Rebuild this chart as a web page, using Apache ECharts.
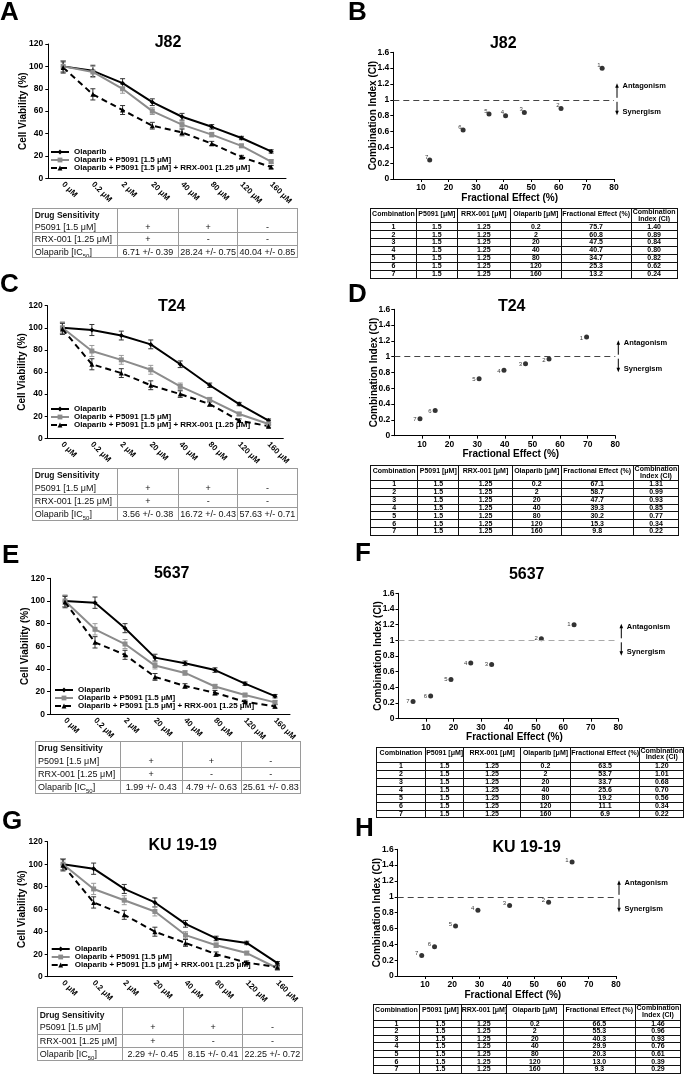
<!DOCTYPE html>
<html><head><meta charset="utf-8">
<script src="https://cdn.jsdelivr.net/npm/echarts@6/dist/echarts.min.js"></script>
<style>
html,body{margin:0;padding:0;background:#fff;}
#wrap{position:relative;width:685px;height:1077px;overflow:hidden;}
#chart{position:absolute;left:0;top:0;width:685px;height:1077px;}
table{position:absolute;border-collapse:collapse;table-layout:fixed;font-family:'Liberation Sans',Arial,sans-serif;}
table.sens{font-size:9px;color:#111;}
table.sens td{border:1px solid #9a9a9a;padding:0;text-align:center;white-space:nowrap;overflow:hidden;line-height:10px;}
table.sens td.lab{text-align:left;padding-left:2px;}
table.sens tr.r0 td{border-bottom:none;}
table.sens tr.r1 td{border-top:none;}
table.sens td.hd{font-weight:bold;font-size:8.5px;}
table.sens sub{font-size:6px;line-height:0;}
table.combo{font-size:7px;font-weight:bold;color:#000;}
table.combo td{border:1px solid #111;padding:0;text-align:center;white-space:nowrap;overflow:hidden;line-height:6.4px;}
table.combo tr.hdr td{vertical-align:top;line-height:7.5px;padding-top:1px;}
table.combo tr.hdr td.two{line-height:6.5px;padding-top:0;}
</style>
</head><body>
<div id="wrap"><div id="chart"></div></div>
<script>
const FONT = "'Liberation Sans', Arial, sans-serif";

// ---------- categories / names ----------
const doseLabels = ['0 μM', '0.2 μM', '2 μM', '20 μM', '40 μM', '80 μM', '120 μM', '160 μM'];
const seriesNames = ['Olaparib', 'Olaparib + P5091 [1.5 μM]', 'Olaparib + P5091 [1.5 μM] + RRX-001 [1.25 μM]'];

// ---------- cell viability (%) ----------
const j82Olaparib = [100, 96, 85, 68, 55, 46, 36, 24];
const j82P5091    = [100, 95, 80, 60, 48, 39, 29, 15];
const j82Triple   = [99, 75, 61, 47, 41, 31, 19, 10];
const j82Err      = [5, 5, 4, 3, 3, 2, 1.5, 1.5];

const t24Olaparib = [100, 98, 93, 85, 67, 48, 31, 16];
const t24P5091    = [100, 79, 71, 62, 47, 35, 22, 13];
const t24Triple   = [99, 67, 59, 48, 40, 31, 16, 11];
const t24Err      = [5, 5, 4, 4, 3, 2, 1.5, 1.5];

const c5637Olaparib = [100, 98.5, 76, 50, 45, 39, 27, 16];
const c5637P5091    = [100, 75, 62, 43, 36.5, 24.5, 17, 10.5];
const c5637Triple   = [99, 63.5, 52.5, 33, 25, 19, 11, 7];
const c5637Err      = [5, 5, 4, 3, 2, 2, 1.5, 1.5];

const ku1919Olaparib = [100, 96, 78, 66, 47, 34, 30, 12];
const ku1919P5091    = [100, 78, 68, 58, 37, 28, 21, 7.5];
const ku1919Triple   = [99, 66, 55, 40, 30, 20, 12.5, 8.5];
const ku1919Err      = [5, 5, 4, 4, 3, 2, 1.5, 1.5];

// ---------- combination index plots ----------
const comboLabels = ['1', '2', '3', '4', '5', '6', '7'];
const j82FE = [75.7, 60.8, 47.5, 40.7, 34.7, 25.3, 13.2];
const j82CI = [1.40, 0.89, 0.84, 0.80, 0.82, 0.62, 0.24];
const t24FE = [69.6, 56.0, 47.5, 39.7, 30.7, 14.8, 9.3];
const t24CI = [1.25, 0.97, 0.91, 0.83, 0.72, 0.32, 0.215];
const c5637FE = [63.9, 52.0, 33.9, 26.3, 19.1, 11.7, 5.3];
const c5637CI = [1.20, 1.02, 0.69, 0.71, 0.50, 0.29, 0.22];
const ku1919FE = [63.9, 55.3, 41.0, 29.4, 21.2, 13.5, 8.8];
const ku1919CI = [1.44, 0.93, 0.89, 0.83, 0.63, 0.37, 0.26];

// ---------- drug sensitivity tables ----------
const sensRowLabels = ['Drug Sensitivity', 'P5091 [1.5 μM]', 'RRX-001 [1.25 μM]', 'Olaparib [IC<sub>50</sub>]'];
const p5091Sens = ['+', '+', '-'];
const rrxSens = ['+', '-', '-'];
const j82IC50 = ['6.71 +/- 0.39', '28.24 +/- 0.75', '40.04 +/- 0.85'];
const t24IC50 = ['3.56 +/- 0.38', '16.72 +/- 0.43', '57.63 +/- 0.71'];
const c5637IC50 = ['1.99 +/- 0.43', '4.79 +/- 0.63', '25.61 +/- 0.83'];
const ku1919IC50 = ['2.29 +/- 0.45', '8.15 +/- 0.41', '22.25 +/- 0.72'];

// ---------- combination tables ----------
const comboHeader = ['Combination', 'P5091 [μM]', 'RRX-001 [μM]', 'Olaparib [μM]', 'Fractional Effect (%)', 'Combination<br>Index (CI)'];
const p5091Dose = '1.5';
const rrxDose = '1.25';
const olaparibDoses = ['0.2', '2', '20', '40', '80', '120', '160'];
const j82TableFE = ['75.7', '60.8', '47.5', '40.7', '34.7', '25.3', '13.2'];
const j82TableCI = ['1.40', '0.89', '0.84', '0.80', '0.82', '0.62', '0.24'];
const t24TableFE = ['67.1', '58.7', '47.7', '39.3', '30.2', '15.3', '9.8'];
const t24TableCI = ['1.31', '0.99', '0.93', '0.85', '0.77', '0.34', '0.22'];
const c5637TableFE = ['63.5', '53.7', '33.7', '25.6', '19.2', '11.1', '6.9'];
const c5637TableCI = ['1.20', '1.01', '0.68', '0.70', '0.56', '0.34', '0.22'];
const ku1919TableFE = ['66.5', '55.3', '40.3', '29.9', '20.3', '13.0', '9.3'];
const ku1919TableCI = ['1.46', '0.96', '0.93', '0.76', '0.61', '0.39', '0.29'];

// ---------- layout ----------
const linePanels = [
  {letter: 'A', letterPos: [0, 13], title: 'J82', titlePos: [168, 43], grid: {left: 48.3, top: 44, width: 237.7, height: 134.3}, legendPos: [50, 148],
   data: [j82Olaparib, j82P5091, j82Triple], err: j82Err, table: {left: 31.7, top: 207.7, rowH: 12.4, ic50: j82IC50}},
  {letter: 'C', letterPos: [0, 285], title: 'T24', titlePos: [171.7, 306.7], grid: {left: 47.7, top: 305.7, width: 235.6, height: 132.6}, legendPos: [50, 405],
   data: [t24Olaparib, t24P5091, t24Triple], err: t24Err, table: {left: 31.7, top: 468.3, rowH: 12.9, ic50: t24IC50}},
  {letter: 'E', letterPos: [2, 555.5], title: '5637', titlePos: [171.7, 573.3], grid: {left: 50, top: 578.3, width: 240, height: 136}, legendPos: [54, 686],
   data: [c5637Olaparib, c5637P5091, c5637Triple], err: c5637Err, table: {left: 35, top: 740.7, rowH: 13.1, ic50: c5637IC50}},
  {letter: 'G', letterPos: [2, 821.5], title: 'KU 19-19', titlePos: [182.7, 846], grid: {left: 47.7, top: 841.7, width: 245, height: 135}, legendPos: [50.7, 945],
   data: [ku1919Olaparib, ku1919P5091, ku1919Triple], err: ku1919Err, table: {left: 36.7, top: 1007.3, rowH: 13.2, ic50: ku1919IC50}}
];
const sensCols = [85, 61.5, 59, 59.5];

const ciPanels = [
  {letter: 'B', letterPos: [348, 13], title: 'J82', titlePos: [503.3, 43.3], grid: {left: 393.3, top: 52.3, width: 220.7, height: 126.7},
   fe: j82FE, ci: j82CI, dash: '#444', labelPos: 'left', labelOffset: [2, -3],
   table: {cols: [370, 416, 456.7, 510, 560.7, 630.7, 676.7], top: 208.3, headH: 13.4, rowH: 7.94, fe: j82TableFE, ci: j82TableCI}},
  {letter: 'D', letterPos: [348, 295], title: 'T24', titlePos: [511.7, 306.7], grid: {left: 394.3, top: 309.3, width: 221, height: 126.4},
   fe: t24FE, ci: t24CI, dash: '#444', labelPos: 'left', labelOffset: [0, 1],
   table: {cols: [370, 417.3, 458.3, 511.7, 560.7, 632.7, 678.3], top: 465, headH: 15, rowH: 7.86, fe: t24TableFE, ci: t24TableCI}},
  {letter: 'F', letterPos: [355, 554], title: '5637', titlePos: [526.7, 575], grid: {left: 398.5, top: 593.3, width: 219.8, height: 125.4},
   fe: c5637FE, ci: c5637CI, dash: '#aaa', labelPos: 'left', labelOffset: [0, 0],
   table: {cols: [376, 425, 463.3, 520, 570, 639.3, 683.3], top: 746.7, headH: 15.5, rowH: 7.9, fe: c5637TableFE, ci: c5637TableCI}},
  {letter: 'H', letterPos: [355, 828.5], title: 'KU 19-19', titlePos: [526.7, 847.3], grid: {left: 397.7, top: 849.3, width: 218.3, height: 126.7},
   fe: ku1919FE, ci: ku1919CI, dash: '#444', labelPos: 'left', labelOffset: [0, -2],
   table: {cols: [372.7, 419.3, 460.7, 506, 562.7, 635, 680], top: 1004, headH: 15.5, rowH: 7.6, fe: ku1919TableFE, ci: ku1919TableCI}}
];

const lineStyles = [
  {color: '#000', width: 2, type: 'solid', symbol: 'diamond', size: 5, errColor: '#333'},
  {color: '#8c8c8c', width: 2, type: 'solid', symbol: 'rect', size: 5, errColor: '#9a9a9a'},
  {color: '#000', width: 2, type: [6, 4], symbol: 'triangle', size: 5, errColor: '#333'}
];

const tickText = {fontSize: 8.5, fontWeight: 'bold', color: '#000', fontFamily: FONT};
const nameText = {fontSize: 10, fontWeight: 'bold', color: '#000', fontFamily: FONT};

function errorSeries(idx, vals, err, color) {
  return {
    type: 'custom', xAxisIndex: idx, yAxisIndex: idx, silent: true, z: 1,
    data: vals.map((v, k) => [k, v - err[k], v + err[k]]),
    encode: {x: 0, y: [1, 2]},
    renderItem: (params, api) => {
      const lo = api.coord([api.value(0), api.value(1)]);
      const hi = api.coord([api.value(0), api.value(2)]);
      const w = 2.5;
      const style = {stroke: color, lineWidth: 1};
      return {type: 'group', children: [
        {type: 'line', shape: {x1: lo[0], y1: lo[1], x2: hi[0], y2: hi[1]}, style: style},
        {type: 'line', shape: {x1: lo[0] - w, y1: lo[1], x2: lo[0] + w, y2: lo[1]}, style: style},
        {type: 'line', shape: {x1: hi[0] - w, y1: hi[1], x2: hi[0] + w, y2: hi[1]}, style: style}
      ]};
    }
  };
}

const grids = [], xAxes = [], yAxes = [], series = [], legends = [], texts = [];

function addText(txt, pos, font, align) {
  texts.push({type: 'text', silent: true, style: {text: txt, x: pos[0], y: pos[1], font: font, fill: '#000',
    align: align, textAlign: align, verticalAlign: 'middle', textVerticalAlign: 'middle'}});
}

linePanels.forEach((p, i) => {
  grids.push(Object.assign({}, p.grid));
  xAxes.push({type: 'category', gridIndex: i, data: doseLabels, boundaryGap: true,
    axisLine: {lineStyle: {color: '#000', width: 1}},
    axisTick: {length: 3, lineStyle: {color: '#000'}},
    axisLabel: {rotate: -45, margin: 5, interval: 0, fontSize: 8, fontWeight: 'bold', color: '#000', fontFamily: FONT}});
  yAxes.push({type: 'value', gridIndex: i, min: 0, max: 120, interval: 20,
    name: 'Cell Viability (%)', nameLocation: 'middle', nameGap: 20, nameMoveOverlap: false, nameTextStyle: nameText,
    axisLine: {show: true, lineStyle: {color: '#000'}},
    axisTick: {show: true, length: 3, lineStyle: {color: '#000'}},
    splitLine: {show: false}, axisLabel: Object.assign({margin: 5}, tickText)});
  lineStyles.forEach((st, k) => {
    series.push(errorSeries(i, p.data[k], p.err, st.errColor));
  });
  lineStyles.forEach((st, k) => {
    series.push({type: 'line', name: seriesNames[k], xAxisIndex: i, yAxisIndex: i, data: p.data[k],
      symbol: st.symbol, symbolSize: st.size, showSymbol: true, z: 3,
      itemStyle: {color: st.color}, lineStyle: {color: st.color, width: st.width, type: st.type}});
  });
  legends.push({left: p.legendPos[0], top: p.legendPos[1], orient: 'vertical', itemGap: 0, itemWidth: 18, itemHeight: 6,
    padding: 0, selectedMode: false, data: seriesNames,
    textStyle: {fontSize: 8, fontWeight: 'bold', color: '#000', fontFamily: FONT}});
  addText(p.letter, p.letterPos, 'bold 26px ' + FONT, 'left');
  addText(p.title, p.titlePos, 'bold 16px ' + FONT, 'center');
});

ciPanels.forEach((p, j) => {
  const i = j + linePanels.length;
  grids.push(Object.assign({}, p.grid));
  xAxes.push({type: 'value', gridIndex: i, min: 0, max: 80, interval: 10,
    name: 'Fractional Effect (%)', nameLocation: 'middle', nameGap: 14, nameMoveOverlap: false,
    nameTextStyle: Object.assign({padding: [0, 0, 0, 12]}, nameText),
    axisLine: {onZero: false, lineStyle: {color: '#000'}},
    axisTick: {show: true, length: 3, lineStyle: {color: '#000'}},
    splitLine: {show: false}, axisLabel: Object.assign({margin: 4, showMinLabel: false}, tickText)});
  yAxes.push({type: 'value', gridIndex: i, min: 0, max: 1.6, interval: 0.2,
    name: 'Combination Index (CI)', nameLocation: 'middle', nameGap: 15, nameMoveOverlap: false, nameTextStyle: nameText,
    axisLine: {show: true, onZero: false, lineStyle: {color: '#000'}},
    axisTick: {show: true, length: 3, lineStyle: {color: '#000'}},
    splitLine: {show: false}, axisLabel: Object.assign({margin: 4}, tickText)});
  series.push({type: 'scatter', xAxisIndex: i, yAxisIndex: i,
    data: p.fe.map((x, k) => [x, p.ci[k], comboLabels[k]]),
    symbol: 'circle', symbolSize: 5, itemStyle: {color: '#000'},
    label: {show: true, formatter: (q) => q.value[2], position: p.labelPos, distance: 1, offset: p.labelOffset,
      fontSize: 6, color: '#000', fontFamily: FONT},
    markLine: {silent: true, symbol: 'none', label: {show: false}, animation: false,
      lineStyle: {type: [6, 4], color: p.dash, width: 1}, data: [{yAxis: 1}]}});
  addText(p.letter, p.letterPos, 'bold 26px ' + FONT, 'left');
  addText(p.title, p.titlePos, 'bold 16px ' + FONT, 'center');
});

const chart = echarts.init(document.getElementById('chart'), null, {renderer: 'canvas', width: 685, height: 1077});
chart.setOption({animation: false, backgroundColor: '#fff', grid: grids, xAxis: xAxes, yAxis: yAxes, legend: legends, series: series});

// antagonism / synergism arrows placed relative to the (80, 1) point of each CI plot
ciPanels.forEach((p, j) => {
  const gi = j + linePanels.length;
  const pt = chart.convertToPixel({gridIndex: gi}, [80, 1]);
  const ax = pt[0] + 3, ay = pt[1];
  const st = {stroke: '#000', lineWidth: 1};
  texts.push({type: 'line', silent: true, shape: {x1: ax, y1: ay - 2, x2: ax, y2: ay - 13}, style: st});
  texts.push({type: 'polygon', silent: true, shape: {points: [[ax - 1.8, ay - 12], [ax + 1.8, ay - 12], [ax, ay - 16.5]]}, style: {fill: '#000'}});
  texts.push({type: 'line', silent: true, shape: {x1: ax, y1: ay + 2, x2: ax, y2: ay + 12}, style: st});
  texts.push({type: 'polygon', silent: true, shape: {points: [[ax - 1.8, ay + 11], [ax + 1.8, ay + 11], [ax, ay + 15.5]]}, style: {fill: '#000'}});
  addText('Antagonism', [pt[0] + 8.5, ay - 13.5], 'bold 7.5px ' + FONT, 'left');
  addText('Synergism', [pt[0] + 8.5, ay + 12], 'bold 7.5px ' + FONT, 'left');
});
chart.setOption({graphic: texts});

// ---------- tables ----------
const wrap = document.getElementById('wrap');
function colgroup(widths) {
  return '<colgroup>' + widths.map(w => '<col style="width:' + w + 'px">').join('') + '</colgroup>';
}
linePanels.forEach(p => {
  const t = p.table;
  const rows = [
    [sensRowLabels[0], '', '', ''],
    [sensRowLabels[1]].concat(p5091Sens),
    [sensRowLabels[2]].concat(rrxSens),
    [sensRowLabels[3]].concat(t.ic50)
  ];
  let html = colgroup(sensCols);
  rows.forEach((r, ri) => {
    html += '<tr class="r' + ri + '" style="height:' + t.rowH + 'px">' +
      r.map((c, ci) => '<td class="' + (ci === 0 ? 'lab' + (ri === 0 ? ' hd' : '') : '') + '">' + c + '</td>').join('') + '</tr>';
  });
  const tbl = document.createElement('table');
  tbl.className = 'sens';
  tbl.style.left = t.left + 'px';
  tbl.style.top = t.top + 'px';
  tbl.style.width = sensCols.reduce((a, b) => a + b, 0) + 'px';
  tbl.innerHTML = html;
  wrap.appendChild(tbl);
});
ciPanels.forEach(p => {
  const t = p.table;
  const widths = t.cols.slice(1).map((c, k) => c - t.cols[k]);
  let html = colgroup(widths);
  html += '<tr class="hdr" style="height:' + t.headH + 'px">' +
    comboHeader.map((h, k) => '<td' + (k === comboHeader.length - 1 ? ' class="two"' : '') + '>' + h + '</td>').join('') + '</tr>';
  comboLabels.forEach((lab, k) => {
    const r = [lab, p5091Dose, rrxDose, olaparibDoses[k], t.fe[k], t.ci[k]];
    html += '<tr style="height:' + t.rowH + 'px">' + r.map(c => '<td>' + c + '</td>').join('') + '</tr>';
  });
  const tbl = document.createElement('table');
  tbl.className = 'combo';
  tbl.style.left = t.cols[0] + 'px';
  tbl.style.top = t.top + 'px';
  tbl.style.width = (t.cols[t.cols.length - 1] - t.cols[0]) + 'px';
  tbl.innerHTML = html;
  wrap.appendChild(tbl);
});
</script>
</body></html>
